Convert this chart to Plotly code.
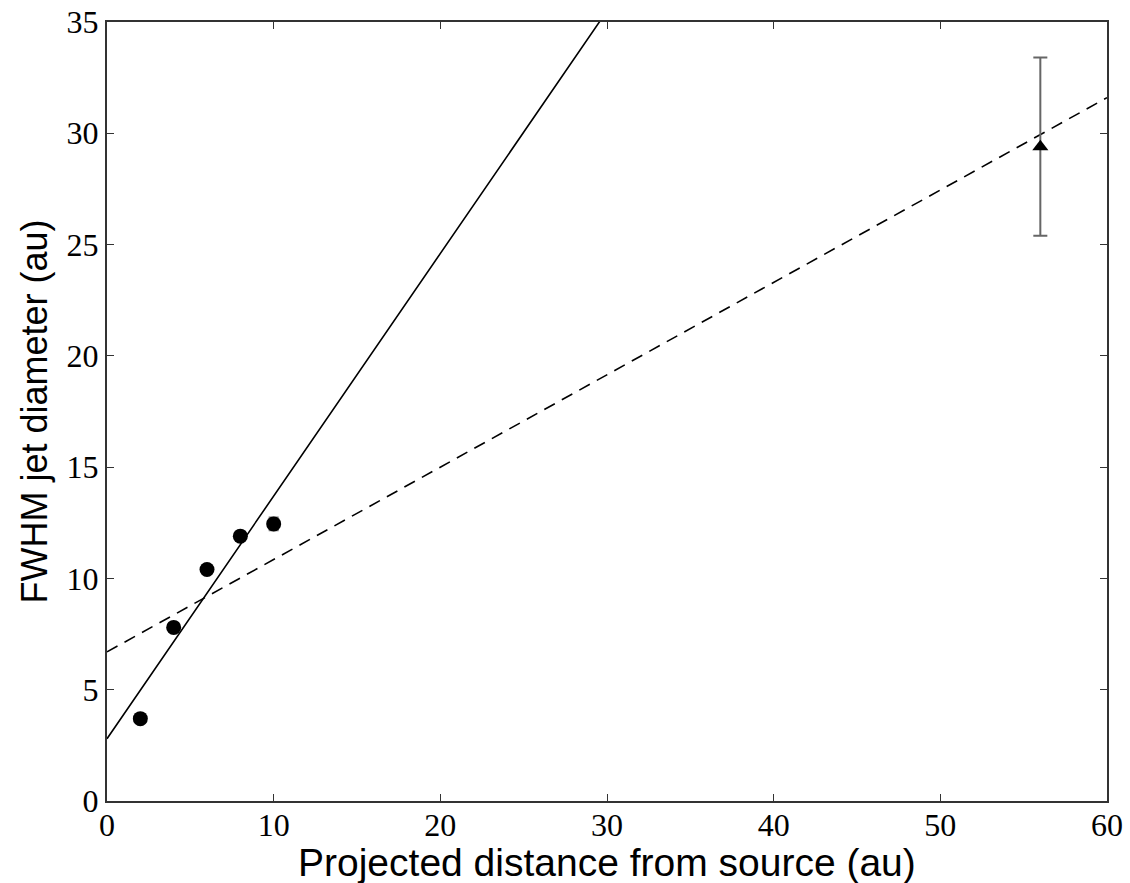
import plotly.graph_objects as go
import numpy as np

# Data
dist_circ = [2, 4, 6, 8, 10]
diam_circ = [3.7, 7.8, 10.4, 11.9, 12.45]
err_circ = [0.15, 0.15, 0.15, 0.15, 0.3]

dist_tri = [56]
diam_tri = [29.4]
err_tri_plus = [4.0]
err_tri_minus = [4.0]

# Fits (intercept, slope)
fit_solid = (2.8, 1.09)
fit_dashed = (6.7, 0.415)

x_title = "Projected distance from source (au)"
y_title = "FWHM jet diameter (au)"

x_line = np.linspace(0, 60, 200)

fig = go.Figure()

fig.add_trace(go.Scatter(
    x=x_line, y=fit_solid[0] + fit_solid[1] * x_line, mode="lines",
    line=dict(color="black", width=1.6), showlegend=False, hoverinfo="skip"))
fig.add_trace(go.Scatter(
    x=x_line, y=fit_dashed[0] + fit_dashed[1] * x_line, mode="lines",
    line=dict(color="black", width=1.6, dash="12px,8px"), showlegend=False, hoverinfo="skip"))

fig.add_trace(go.Scatter(
    x=dist_circ, y=diam_circ, mode="markers",
    marker=dict(symbol="circle", size=15, color="black"),
    error_y=dict(type="data", array=err_circ, color="#777777", thickness=1.5, width=5),
    showlegend=False))

fig.add_trace(go.Scatter(
    x=dist_tri, y=diam_tri, mode="markers",
    marker=dict(symbol="triangle-up", size=14, color="black"),
    error_y=dict(type="data", symmetric=False, array=err_tri_plus, arrayminus=err_tri_minus,
                 color="#666666", thickness=2, width=7),
    showlegend=False))

axis_common = dict(
    showline=True, linecolor="#333333", linewidth=2, mirror="ticks",
    ticks="inside", ticklen=7, tickwidth=1, tickcolor="#333333",
    showgrid=False, zeroline=False, automargin=False, ticklabeloverflow="allow",
    tickfont=dict(family="Liberation Serif", size=32, color="black"),
)

fig.update_xaxes(range=[0, 60], tickvals=[0, 10, 20, 30, 40, 50, 60],
                 ticklabelstandoff=-5, **axis_common)
fig.update_yaxes(range=[0, 35], tickvals=[0, 5, 10, 15, 20, 25, 30, 35], **axis_common)

fig.add_annotation(text=x_title, xref="paper", yref="paper", x=0.5, y=0,
                   xanchor="center", yanchor="middle", yshift=-61, showarrow=False,
                   font=dict(family="Liberation Sans", size=39, color="black"))
fig.add_annotation(text=y_title, xref="paper", yref="paper", x=0, y=0.5,
                   xanchor="center", yanchor="middle", xshift=-73, textangle=-90, showarrow=False,
                   font=dict(family="Liberation Sans", size=36, color="black"))

fig.update_layout(
    width=1130, height=883,
    margin=dict(l=107, r=23, t=22, b=82),
    plot_bgcolor="white", paper_bgcolor="white",
)

fig.write_html("out.html", config={"displayModeBar": False},
               post_script="document.body.style.margin='0';document.body.style.overflow='hidden';")
